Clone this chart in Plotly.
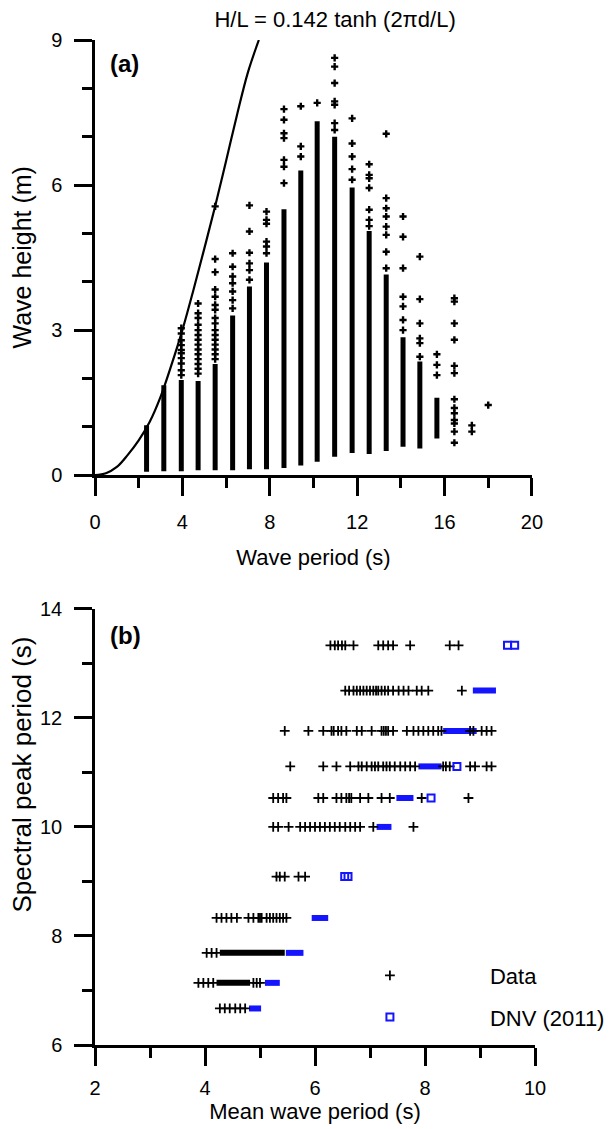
import plotly.graph_objects as go

# ---------------- panel (a): wave height vs wave period ----------------
# breaking-limit curve
curve_period = [0, 0.5, 1.0, 1.5, 2.0, 2.5, 3.0, 3.5, 4.0, 4.5, 5.0, 5.5, 6.0, 6.5, 7.0, 7.5]
curve_height = [0, 0.04, 0.17, 0.42, 0.72, 1.1, 1.62, 2.28, 3.0, 3.82, 4.68, 5.56, 6.5, 7.45, 8.33, 9.0]

# the discrete period bins (columns of points)
a_period = [2.36, 3.15, 3.95, 4.72, 5.5, 6.3, 7.07, 7.85, 8.65, 9.42, 10.17,
            10.97, 11.77, 12.55, 13.33, 14.1, 14.87, 15.65, 16.45, 17.25, 18.0]
# continuous (solid) part of each column
a_solid_lo = [0.07, 0.08, 0.08, 0.1, 0.1, 0.1, 0.12, 0.12, 0.15, 0.2, 0.28,
              0.38, 0.46, 0.44, 0.5, 0.59, 0.55, 0.76, None, None, None]
a_solid_hi = [1.03, 1.86, 1.97, 1.95, 2.3, 3.3, 3.9, 4.4, 5.5, 6.3, 7.32,
              7.0, 5.95, 5.05, 4.15, 2.85, 2.35, 1.6, None, None, None]
# separate points above the solid part
a_points = [
    [],
    [],
    [3.04, 2.93, 2.79, 2.69, 2.59, 2.52, 2.42, 2.31, 2.17, 2.07],
    [3.55, 3.35, 3.25, 3.11, 3.0, 2.9, 2.8, 2.7, 2.6, 2.5, 2.4, 2.3, 2.2, 2.1],
    [5.56, 4.47, 4.2, 3.84, 3.69, 3.52, 3.42, 3.25, 3.14, 3.0, 2.9, 2.8, 2.7, 2.6, 2.5, 2.4],
    [4.59, 4.31, 4.11, 3.97, 3.8, 3.62, 3.45],
    [5.58, 5.04, 4.6, 4.38, 4.24, 4.04],
    [5.45, 5.28, 5.2, 4.83, 4.73, 4.59],
    [7.57, 7.35, 7.07, 6.97, 6.52, 6.38, 6.04],
    [7.63, 6.8, 6.59],
    [7.7],
    [8.63, 8.45, 8.11, 7.73, 7.66, 7.28, 7.14],
    [7.38, 6.86, 6.59, 6.33, 6.11],
    [6.43, 6.21, 6.14, 5.94, 5.49, 5.28, 5.15],
    [7.06, 5.73, 5.52, 5.35, 5.14, 4.97, 4.62, 4.28],
    [5.35, 4.93, 4.28, 3.69, 3.49, 3.21, 3.0],
    [4.52, 3.64, 3.14, 2.83, 2.73, 2.45],
    [2.5, 2.28, 2.07],
    [3.66, 3.59, 3.14, 2.8, 2.26, 2.11, 1.57, 1.39, 1.28, 1.14, 1.07, 0.9, 0.67],
    [1.03, 0.9],
    [1.45],
]

# ---------------- panel (b): spectral peak vs mean period ----------------
b_peak = [13.33, 12.5, 11.76, 11.11, 10.53, 10.0, 9.09, 8.33, 7.69, 7.14, 6.67]
b_mean = [
    [6.28, 6.36, 6.42, 6.49, 6.55, 6.7, 7.15, 7.24, 7.33, 7.42, 7.73, 8.45, 8.61],
    [6.55, 6.62, 6.7, 6.76, 6.82, 6.88, 6.94, 7.0, 7.06, 7.11, 7.15, 7.21, 7.27,
     7.33, 7.42, 7.52, 7.61, 7.7, 7.85, 7.94, 8.06, 8.67],
    [5.45, 5.88, 6.15, 6.3, 6.34, 6.42, 6.48, 6.57, 6.76, 6.85, 7.03, 7.21, 7.25,
     7.29, 7.33, 7.42, 7.67, 7.79, 7.88, 7.97, 8.06, 8.15, 8.24, 8.3, 8.82, 8.88,
     9.03, 9.12, 9.21],
    [5.55, 6.15, 6.39, 6.64, 6.79, 6.85, 6.94, 7.03, 7.09, 7.15, 7.24, 7.3, 7.36,
     7.45, 7.55, 7.64, 7.73, 7.82, 8.33, 8.38, 8.45, 8.82, 8.91, 9.12, 9.21],
    [5.24, 5.33, 5.42, 5.48, 6.06, 6.15, 6.39, 6.48, 6.57, 6.62, 6.66, 6.82, 6.97,
     7.21, 7.36, 7.94, 8.79],
    [5.24, 5.33, 5.52, 5.73, 5.82, 5.91, 6.0, 6.09, 6.18, 6.27, 6.36, 6.45, 6.55,
     6.64, 6.73, 6.82, 7.06, 7.79],
    [5.3, 5.36, 5.45, 5.7, 5.82],
    [4.21, 4.3, 4.39, 4.48, 4.58, 4.79, 4.88, 4.97, 5.0, 5.03, 5.12, 5.18, 5.24,
     5.3, 5.36, 5.42, 5.48],
    [4.03, 4.12, 4.21],
    [3.88, 3.97, 4.06, 4.15, 4.88, 4.94, 5.0],
    [4.27, 4.36, 4.45, 4.55, 4.64, 4.73],
]
# rows where the crosses merge into a solid run
b_run_peak = [7.69, 7.14]
b_run_lo = [4.27, 4.21]
b_run_hi = [5.45, 4.82]

# DNV (2011) estimates: solid runs per row plus single squares
dnv_lo = [None, 8.87, 8.33, 7.88, 7.48, 7.12, None, 5.94, 5.47, 5.09, 4.8]
dnv_hi = [None, 9.29, 8.94, 8.3, 7.79, 7.39, None, 6.24, 5.79, 5.36, 5.02]
dnv_single_peak = [13.33, 13.33, 11.11, 10.53, 9.09, 9.09]
dnv_single_mean = [9.5, 9.63, 8.58, 8.11, 6.54, 6.6]

BLUE = "rgb(20,20,255)"
FONT = "Arial, Liberation Sans, sans-serif"

fig = go.Figure()

# panel (a)
fig.add_trace(go.Scatter(x=curve_period, y=curve_height, mode="lines",
                         line=dict(color="black", width=2.2, shape="spline"),
                         showlegend=False, xaxis="x", yaxis="y"))
sx, sy = [], []
for t, lo, hi in zip(a_period, a_solid_lo, a_solid_hi):
    if lo is None:
        continue
    sx += [t, t, None]
    sy += [lo, hi, None]
fig.add_trace(go.Scatter(x=sx, y=sy, mode="lines", line=dict(color="black", width=5),
                         showlegend=False, xaxis="x", yaxis="y"))
px, py = [], []
for t, pts in zip(a_period, a_points):
    px += [t] * len(pts)
    py += pts
fig.add_trace(go.Scatter(x=px, y=py, mode="markers",
                         marker=dict(symbol="cross", size=6, color="black"),
                         showlegend=False, xaxis="x", yaxis="y"))

# panel (b)
dx, dy = [], []
for tp, lo, hi in zip(b_peak, dnv_lo, dnv_hi):
    if lo is None:
        continue
    dx += [lo, hi, None]
    dy += [tp, tp, None]
fig.add_trace(go.Scatter(x=dx, y=dy, mode="lines", line=dict(color=BLUE, width=6),
                         showlegend=False, xaxis="x2", yaxis="y2"))
rx, ry = [], []
for tp, lo, hi in zip(b_run_peak, b_run_lo, b_run_hi):
    rx += [lo, hi, None]
    ry += [tp, tp, None]
fig.add_trace(go.Scatter(x=rx, y=ry, mode="lines", line=dict(color="black", width=6),
                         showlegend=False, xaxis="x2", yaxis="y2"))
bx, by = [], []
for tp, row in zip(b_peak, b_mean):
    bx += row
    by += [tp] * len(row)
fig.add_trace(go.Scatter(x=bx, y=by, mode="markers", name="Data", legendgroup="data",
                         marker=dict(symbol="cross-thin", size=7,
                                     line=dict(color="black", width=1.8)),
                         xaxis="x2", yaxis="y2"))
fig.add_trace(go.Scatter(x=dnv_single_mean, y=dnv_single_peak, mode="markers",
                         name="DNV (2011)", legendgroup="dnv",
                         marker=dict(symbol="square-open", size=7,
                                     line=dict(color=BLUE, width=2), color=BLUE),
                         xaxis="x2", yaxis="y2"))

axis_style = dict(showline=True, linecolor="black", linewidth=2.5, ticks="outside",
                  ticklen=18, tickwidth=2.5, tickcolor="black", showgrid=False,
                  zeroline=False, tickfont=dict(size=20, color="black"),
                  automargin=False)
minor_style = dict(ticks="outside", ticklen=10, tickwidth=2.5, tickcolor="black")

# the page body adds an 8 px offset, so the figure is 8 px smaller than the window
fig.update_layout(
    width=608, height=1121,
    margin=dict(l=87, r=81, t=32, b=84, autoexpand=False),
    paper_bgcolor="white", plot_bgcolor="white",
    font=dict(family=FONT, color="black"),
    title=dict(text="H/L = 0.142 tanh (2πd/L)", x=0.538, xanchor="center",
               y=0.99, yanchor="middle", font=dict(size=22)),
    xaxis=dict(axis_style, domain=[0, 0.993], range=[0, 20], dtick=4, anchor="y",
               ticklabelstandoff=9, minor=dict(minor_style, dtick=2),
               title=dict(text="Wave period (s)", font=dict(size=22), standoff=18)),
    yaxis=dict(axis_style, domain=[0.567, 1], range=[0, 9], dtick=3, anchor="x",
               ticklabelstandoff=8, minor=dict(minor_style, dtick=1)),
    xaxis2=dict(axis_style, domain=[0, 1], range=[2, 10], dtick=2, anchor="y2",
                ticklabelstandoff=5, minor=dict(minor_style, dtick=1),
                title=dict(text="Mean wave period (s)", font=dict(size=22), standoff=6)),
    yaxis2=dict(axis_style, domain=[0, 0.434], range=[6, 14], dtick=2, anchor="x2",
                ticklabelstandoff=8, minor=dict(minor_style, dtick=1)),
    legend=dict(x=0.443, y=0.09, xanchor="left", yanchor="top", itemwidth=190,
                font=dict(size=22), bgcolor="rgba(0,0,0,0)", tracegroupgap=10),
    annotations=[
        dict(text="<b>(a)</b>", xref="x domain", yref="y domain", x=0.03, y=0.947,
             xanchor="left", yanchor="middle", showarrow=False, font=dict(size=24)),
        dict(text="<b>(b)</b>", xref="x2 domain", yref="y2 domain", x=0.03, y=0.94,
             xanchor="left", yanchor="middle", showarrow=False, font=dict(size=24)),
        # y-axis titles
        dict(text="Wave height (m)", xref="paper", yref="y domain", x=-0.166, y=0.5,
             xanchor="center", yanchor="middle", textangle=-90, showarrow=False,
             font=dict(size=25)),
        dict(text="Spectral peak period (s)", xref="paper", yref="y2 domain", x=-0.166,
             y=0.62, xanchor="center", yanchor="middle", textangle=-90, showarrow=False,
             font=dict(size=26)),
    ],
)

fig.write_html("out.html")
